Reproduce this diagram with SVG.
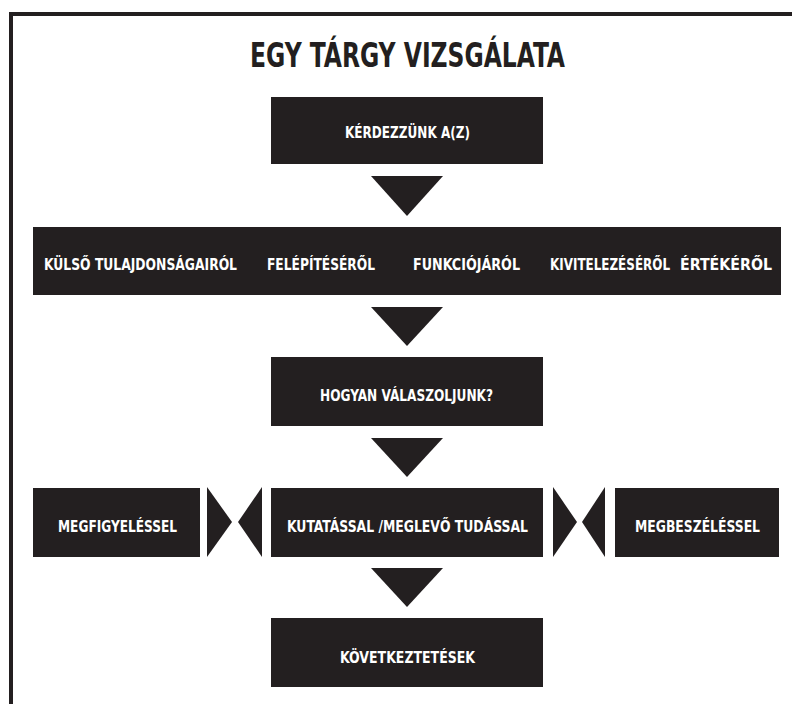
<svg xmlns="http://www.w3.org/2000/svg" width="792" height="704" viewBox="0 0 792 704">
  <style>
    .box { fill: #231f20; }
    .arrow { fill: #231f20; }
    .lbl { fill: #ffffff; font-family: "Liberation Sans Narrow", "DejaVu Sans Condensed", "Liberation Sans", sans-serif; font-weight: bold; font-size: 15px; }
    .title { fill: #231f20; font-family: "Liberation Sans Narrow", "DejaVu Sans Condensed", "Liberation Sans", sans-serif; font-weight: bold; font-size: 34px; }
    .frame { fill: none; stroke: #231f20; stroke-width: 4; }
  </style>
  <rect x="0" y="0" width="792" height="704" fill="#ffffff"/>
  <path class="frame" d="M11,710 V14 H796"/>

  <g id="title">
    <text class="title" x="250" y="67" textLength="315" lengthAdjust="spacingAndGlyphs">EGY TÁRGY VIZSGÁLATA</text>
  </g>

  <g id="node-kerdezzunk">
    <rect class="box" x="271" y="97" width="272" height="67"/>
    <text class="lbl" x="345" y="138" textLength="125" lengthAdjust="spacingAndGlyphs">KÉRDEZZÜNK A(Z)</text>
  </g>

  <g id="node-aspects">
    <rect class="box" x="33" y="227" width="748" height="68"/>
    <text class="lbl" x="44" y="270" textLength="193" lengthAdjust="spacingAndGlyphs">KÜLSŐ TULAJDONSÁGAIRÓL</text>
    <text class="lbl" x="267" y="270" textLength="108" lengthAdjust="spacingAndGlyphs">FELÉPÍTÉSÉRŐL</text>
    <text class="lbl" x="413" y="270" textLength="107" lengthAdjust="spacingAndGlyphs">FUNKCIÓJÁRÓL</text>
    <text class="lbl" x="550" y="270" textLength="120" lengthAdjust="spacingAndGlyphs">KIVITELEZÉSÉRŐL</text>
    <text class="lbl" x="680" y="270" textLength="92" lengthAdjust="spacingAndGlyphs">ÉRTÉKÉRŐL</text>
  </g>

  <g id="node-hogyan">
    <rect class="box" x="271" y="357" width="272" height="69"/>
    <text class="lbl" x="320" y="401" textLength="173" lengthAdjust="spacingAndGlyphs">HOGYAN VÁLASZOLJUNK?</text>
  </g>

  <g id="node-megfigyelessel">
    <rect class="box" x="33" y="488" width="167" height="69"/>
    <text class="lbl" x="58" y="532" textLength="119" lengthAdjust="spacingAndGlyphs">MEGFIGYELÉSSEL</text>
  </g>

  <g id="node-kutatassal">
    <rect class="box" x="271" y="488" width="272" height="69"/>
    <text class="lbl" x="287" y="532" textLength="241" lengthAdjust="spacingAndGlyphs">KUTATÁSSAL /MEGLEVŐ TUDÁSSAL</text>
  </g>

  <g id="node-megbeszelessel">
    <rect class="box" x="615" y="488" width="164" height="69"/>
    <text class="lbl" x="635" y="532" textLength="125" lengthAdjust="spacingAndGlyphs">MEGBESZÉLÉSSEL</text>
  </g>

  <g id="node-kovetkeztetesek">
    <rect class="box" x="271" y="618" width="272" height="69"/>
    <text class="lbl" x="340" y="663" textLength="135" lengthAdjust="spacingAndGlyphs">KÖVETKEZTETÉSEK</text>
  </g>

  <g id="connectors">
    <polygon class="arrow" points="371,176 443,176 407,216"/>
    <polygon class="arrow" points="371,307 443,307 407,346"/>
    <polygon class="arrow" points="371,438 443,438 407,477"/>
    <polygon class="arrow" points="371,568 443,568 407,607"/>
    <polygon class="arrow" points="207,487 207,557 232,522"/>
    <polygon class="arrow" points="262,487 262,557 238,522"/>
    <polygon class="arrow" points="553,487 553,557 577,522"/>
    <polygon class="arrow" points="605,487 605,557 582,522"/>
  </g>
</svg>
